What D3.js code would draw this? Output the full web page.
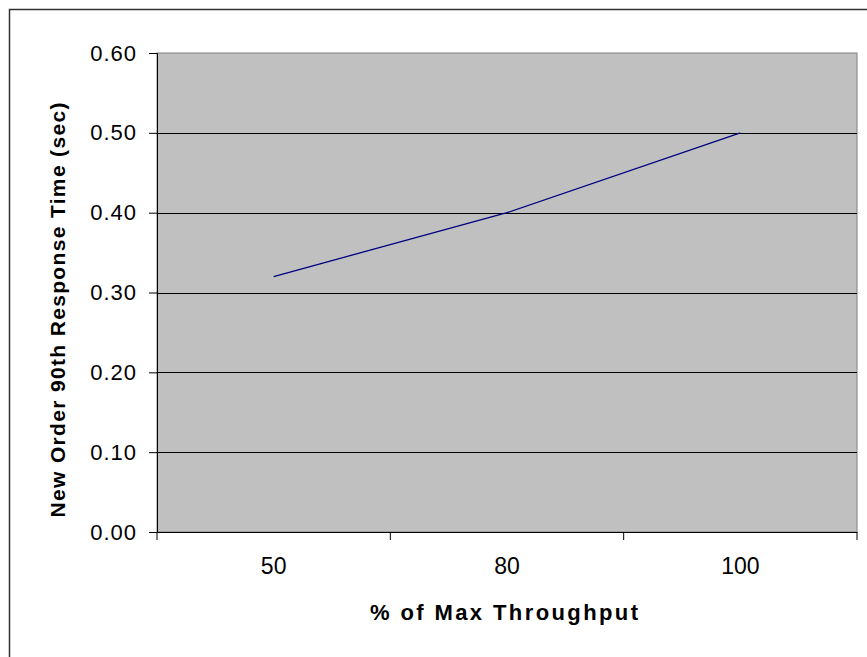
<!DOCTYPE html>
<html>
<head>
<meta charset="utf-8">
<script src="https://cdn.jsdelivr.net/npm/d3@7"></script>
<style>
  body { margin: 0; background: #fff; }
  svg { display: block; font-family: "Liberation Sans", Arial, sans-serif; }
</style>
</head>
<body>
<svg id="chart" width="867" height="657"></svg>
<script>
// data
const categories = ["50", "80", "100"];
const responseTimes = [0.32, 0.40, 0.50];
const yTicks = [0, 0.1, 0.2, 0.3, 0.4, 0.5, 0.6];

const width = 867, height = 657;
const margin = { top: 53, right: 10, bottom: 125, left: 157 };
const plotW = width - margin.left - margin.right;
const plotH = height - margin.top - margin.bottom;

const svg = d3.select("#chart");

// outer chart frame (cropped at right and bottom)
svg.append("rect")
  .attr("x", 9.5).attr("y", 9.5)
  .attr("width", 900).attr("height", 700)
  .attr("fill", "#fff")
  .attr("stroke", "#333").attr("stroke-width", 1.5);

const g = svg.append("g")
  .attr("transform", `translate(${margin.left},${margin.top})`);

const x = d3.scaleBand().domain(categories).range([0, plotW]).padding(0);
const y = d3.scaleLinear().domain([0, 0.6]).range([plotH, 0]);

// plot area
g.append("rect")
  .attr("width", plotW).attr("height", plotH)
  .attr("fill", "#c0c0c0")
  .attr("stroke", "#808080").attr("stroke-width", 1);

// gridlines
g.selectAll(".grid")
  .data(yTicks.filter(d => d > 0 && d < 0.6))
  .enter().append("line")
  .attr("x1", 0).attr("x2", plotW)
  .attr("y1", d => Math.round(y(d)) + 0.5)
  .attr("y2", d => Math.round(y(d)) + 0.5)
  .attr("stroke", "#000").attr("stroke-width", 1);

// y axis
const yAxis = g.append("g")
  .call(d3.axisLeft(y).tickValues(yTicks).tickFormat(d3.format(".2f")).tickSize(8).tickPadding(12));
yAxis.select(".domain").attr("stroke", "#000");
yAxis.selectAll("line").attr("stroke", "#000");
yAxis.selectAll("text")
  .attr("font-size", 22)
  .attr("letter-spacing", 1)
  .attr("fill", "#000")
  .style("font-family", "Liberation Sans, Arial, sans-serif");

// x axis (labels at band centres, ticks at band edges)
const xAxis = g.append("g")
  .attr("transform", `translate(0,${plotH})`)
  .call(d3.axisBottom(x).tickSize(0).tickPadding(26));
xAxis.select(".domain").attr("stroke", "#000");
xAxis.selectAll("text")
  .attr("font-size", 23)
  .attr("fill", "#000")
  .style("font-family", "Liberation Sans, Arial, sans-serif");

const edges = categories.map(c => x(c)).concat([x(categories[categories.length - 1]) + x.bandwidth()]);
xAxis.selectAll(".edge")
  .data(edges)
  .enter().append("line")
  .attr("x1", d => d).attr("x2", d => d)
  .attr("y1", 0).attr("y2", 8)
  .attr("stroke", "#000");

// series line
const line = d3.line()
  .x((d, i) => x(categories[i]) + x.bandwidth() / 2)
  .y(d => y(d));

g.append("path")
  .datum(responseTimes)
  .attr("d", line)
  .attr("fill", "none")
  .attr("stroke", "#000080")
  .attr("stroke-width", 1.3);

// axis titles
svg.append("text")
  .attr("x", 504).attr("y", 620)
  .attr("text-anchor", "middle")
  .attr("font-size", 22).attr("font-weight", "bold")
  .attr("textLength", 268).attr("lengthAdjust", "spacing")
  .text("% of Max Throughput");

svg.append("text")
  .attr("transform", "translate(65,310) rotate(-90)")
  .attr("text-anchor", "middle")
  .attr("font-size", 21).attr("font-weight", "bold")
  .attr("textLength", 415).attr("lengthAdjust", "spacing")
  .text("New Order 90th Response Time (sec)");
</script>
</body>
</html>
